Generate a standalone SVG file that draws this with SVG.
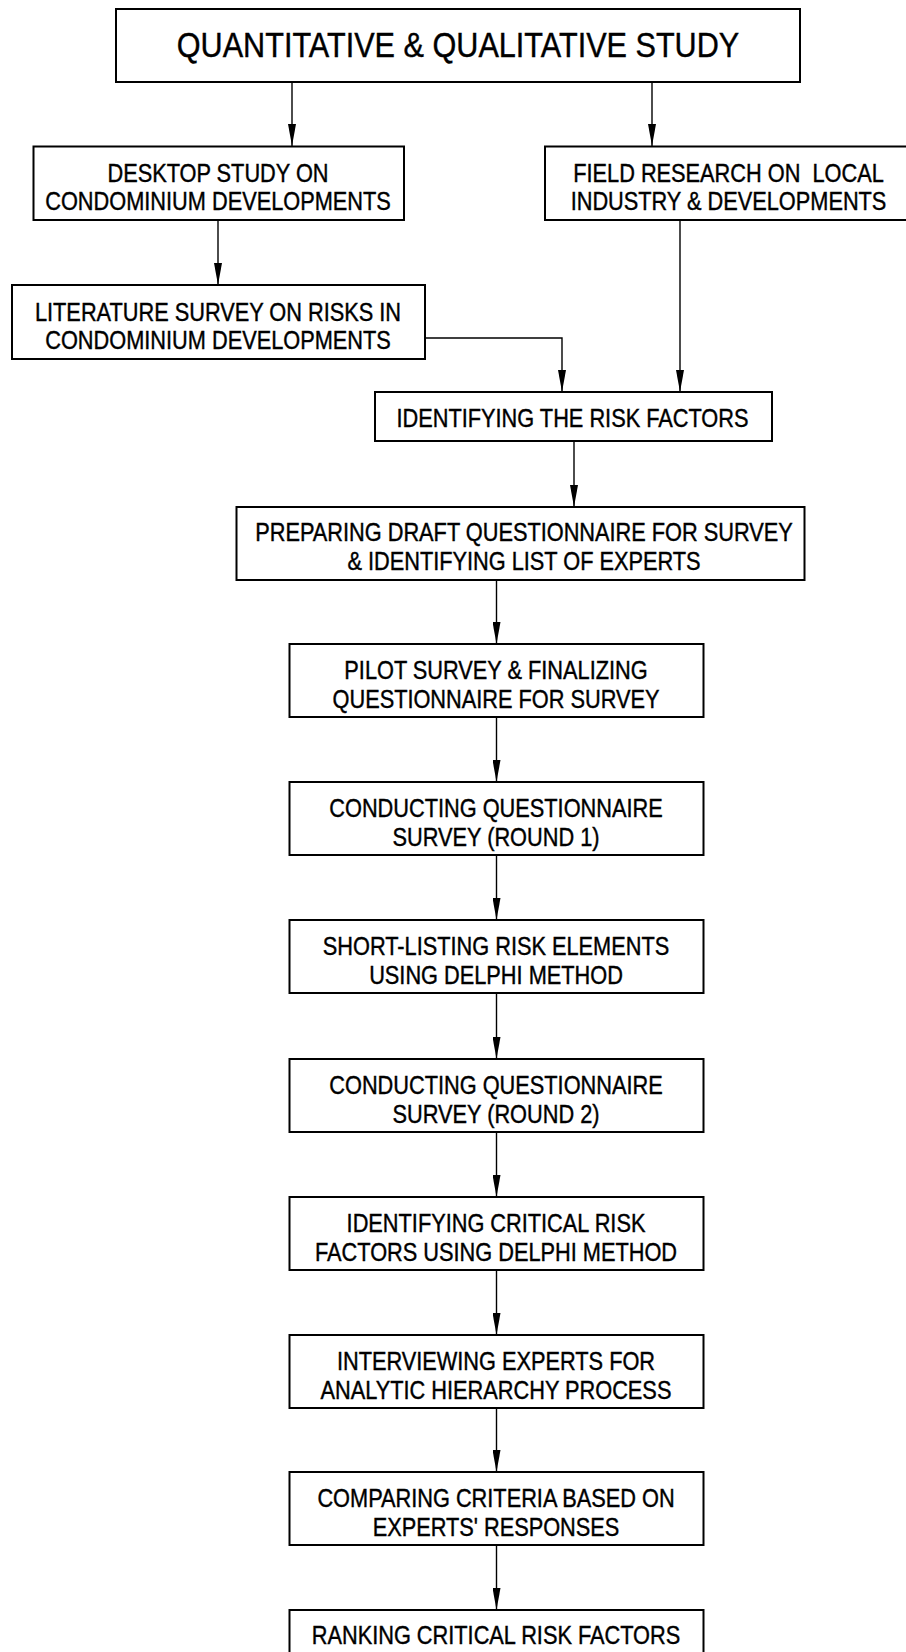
<svg xmlns="http://www.w3.org/2000/svg" width="906" height="1652" viewBox="0 0 906 1652">
<style>
.box{fill:#fff;stroke:#000;stroke-width:2}
.t{font-family:"Liberation Sans",Arial,sans-serif;font-size:25px;text-anchor:middle;fill:#000;stroke:#000;stroke-width:0.4}
.title{font-size:35px}
.c{fill:none;stroke:#000;stroke-width:1.4}
</style>
<defs>
<marker id="ah" viewBox="0 0 22 8" refX="22" refY="4" markerWidth="22" markerHeight="8" markerUnits="userSpaceOnUse" orient="auto">
<path d="M0,0 L22,4 L0,8 z" fill="#000"/>
</marker>
</defs>
<rect width="906" height="1652" fill="#fff"/>
<g id="connectors">
<path class="c" d="M292,82 V146" marker-end="url(#ah)"/>
<path class="c" d="M652,82 V146" marker-end="url(#ah)"/>
<path class="c" d="M218,220 V285" marker-end="url(#ah)"/>
<path class="c" d="M425,338 H562 V392" marker-end="url(#ah)"/>
<path class="c" d="M680,220 V392" marker-end="url(#ah)"/>
<path class="c" d="M574,441 V507" marker-end="url(#ah)"/>
<path class="c" d="M496.5,580 V644" marker-end="url(#ah)"/>
<path class="c" d="M496.5,717 V782" marker-end="url(#ah)"/>
<path class="c" d="M496.5,855 V920" marker-end="url(#ah)"/>
<path class="c" d="M496.5,993 V1059" marker-end="url(#ah)"/>
<path class="c" d="M496.5,1132 V1197" marker-end="url(#ah)"/>
<path class="c" d="M496.5,1270 V1335" marker-end="url(#ah)"/>
<path class="c" d="M496.5,1408 V1472" marker-end="url(#ah)"/>
<path class="c" d="M496.5,1545 V1610" marker-end="url(#ah)"/>
</g>
<g id="n-title">
<rect class="box" x="116" y="9" width="684" height="73"/>
<text class="t title" transform="translate(458,57) scale(0.875,1)">QUANTITATIVE &amp; QUALITATIVE STUDY</text>
</g>
<g id="n-desktop">
<rect class="box" x="33.5" y="146.5" width="370.5" height="73.5"/>
<text class="t" transform="translate(218,181.5) scale(0.87,1)">DESKTOP STUDY ON</text>
<text class="t" transform="translate(218,210) scale(0.87,1)">CONDOMINIUM DEVELOPMENTS</text>
</g>
<g id="n-field">
<rect class="box" x="545" y="146.5" width="368" height="73.5"/>
<text class="t" xml:space="preserve" transform="translate(728.5,181.5) scale(0.87,1)">FIELD RESEARCH ON  LOCAL</text>
<text class="t" transform="translate(728.5,210) scale(0.87,1)">INDUSTRY &amp; DEVELOPMENTS</text>
</g>
<g id="n-literature">
<rect class="box" x="12" y="285" width="413" height="74"/>
<text class="t" transform="translate(218,320.5) scale(0.87,1)">LITERATURE SURVEY ON RISKS IN</text>
<text class="t" transform="translate(218,349) scale(0.87,1)">CONDOMINIUM DEVELOPMENTS</text>
</g>
<g id="n-identify">
<rect class="box" x="375" y="392" width="397" height="49"/>
<text class="t" transform="translate(572.5,427) scale(0.87,1)">IDENTIFYING THE RISK FACTORS</text>
</g>
<g id="n-prepare">
<rect class="box" x="236.5" y="507" width="568" height="73"/>
<text class="t" transform="translate(524,540.5) scale(0.87,1)">PREPARING DRAFT QUESTIONNAIRE FOR SURVEY</text>
<text class="t" transform="translate(524,569.5) scale(0.87,1)">&amp; IDENTIFYING LIST OF EXPERTS</text>
</g>
<g id="n-pilot">
<rect class="box" x="289.5" y="644" width="414" height="73"/>
<text class="t" transform="translate(496,678.5) scale(0.87,1)">PILOT SURVEY &amp; FINALIZING</text>
<text class="t" transform="translate(496,707.5) scale(0.87,1)">QUESTIONNAIRE FOR SURVEY</text>
</g>
<g id="n-round1">
<rect class="box" x="289.5" y="782" width="414" height="73"/>
<text class="t" transform="translate(496,816.5) scale(0.87,1)">CONDUCTING QUESTIONNAIRE</text>
<text class="t" transform="translate(496,845.5) scale(0.87,1)">SURVEY (ROUND 1)</text>
</g>
<g id="n-shortlist">
<rect class="box" x="289.5" y="920" width="414" height="73"/>
<text class="t" transform="translate(496,954.5) scale(0.87,1)">SHORT-LISTING RISK ELEMENTS</text>
<text class="t" transform="translate(496,983.5) scale(0.87,1)">USING DELPHI METHOD</text>
</g>
<g id="n-round2">
<rect class="box" x="289.5" y="1059" width="414" height="73"/>
<text class="t" transform="translate(496,1093.5) scale(0.87,1)">CONDUCTING QUESTIONNAIRE</text>
<text class="t" transform="translate(496,1122.5) scale(0.87,1)">SURVEY (ROUND 2)</text>
</g>
<g id="n-critical">
<rect class="box" x="289.5" y="1197" width="414" height="73"/>
<text class="t" transform="translate(496,1231.5) scale(0.87,1)">IDENTIFYING CRITICAL RISK</text>
<text class="t" transform="translate(496,1260.5) scale(0.87,1)">FACTORS USING DELPHI METHOD</text>
</g>
<g id="n-interview">
<rect class="box" x="289.5" y="1335" width="414" height="73"/>
<text class="t" transform="translate(496,1369.5) scale(0.87,1)">INTERVIEWING EXPERTS FOR</text>
<text class="t" transform="translate(496,1398.5) scale(0.87,1)">ANALYTIC HIERARCHY PROCESS</text>
</g>
<g id="n-compare">
<rect class="box" x="289.5" y="1472" width="414" height="73"/>
<text class="t" transform="translate(496,1506.5) scale(0.87,1)">COMPARING CRITERIA BASED ON</text>
<text class="t" transform="translate(496,1535.5) scale(0.87,1)">EXPERTS' RESPONSES</text>
</g>
<g id="n-ranking">
<rect class="box" x="289.5" y="1610" width="414" height="73"/>
<text class="t" transform="translate(496,1644) scale(0.87,1)">RANKING CRITICAL RISK FACTORS</text>
</g>
</svg>
